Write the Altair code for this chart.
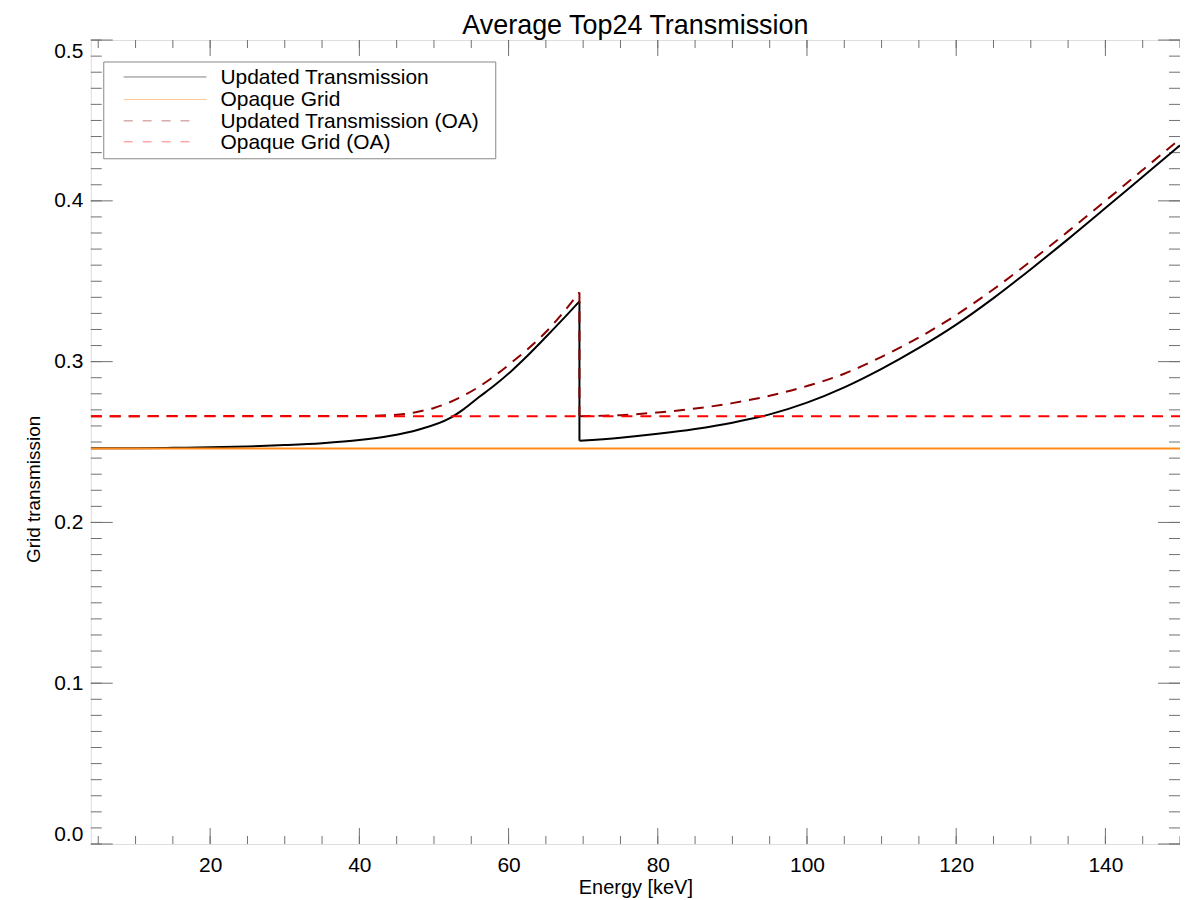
import altair as alt
import pandas as pd

# ---- data ----
# Updated Transmission (black), below and above the 69.5 keV edge
black_pre_e = [4, 10, 15, 20, 25, 30, 35, 40, 44, 48, 52, 54, 56, 58, 60.5, 62.5, 65, 67, 69.5]
black_pre_t = [0.2462, 0.2462, 0.2464, 0.2467, 0.2472, 0.2481, 0.2493, 0.2512, 0.2537, 0.2578,
               0.2645, 0.2705, 0.2778, 0.2848, 0.2947, 0.3035, 0.3153, 0.3250, 0.3375]
black_post_e = [69.5, 75, 80, 85, 90, 95, 100, 105, 110, 115, 120, 125, 130, 135, 140, 145, 150]
black_post_t = [0.2508, 0.2527, 0.2551, 0.2581, 0.2620, 0.2672, 0.2745, 0.2840, 0.2955, 0.3085,
                0.3230, 0.3395, 0.3575, 0.3762, 0.3955, 0.4150, 0.4345]

# Updated Transmission (OA) (dark red dashed)
oa_pre_e = [4, 40, 44, 46, 48, 50, 52, 56, 60.5, 65, 69.5]
oa_pre_t = [0.2661, 0.2662, 0.2667, 0.2674, 0.2690, 0.2712, 0.2745, 0.2843, 0.2998, 0.3184, 0.3430]
oa_post_e = [69.5, 75, 80, 85, 90, 95, 100, 105, 110, 115, 120, 125, 130, 135, 140, 145, 150]
oa_post_t = [0.2661, 0.2667, 0.2684, 0.2708, 0.2742, 0.2788, 0.2848, 0.2925, 0.3030, 0.3150,
             0.3290, 0.3450, 0.3625, 0.3810, 0.4000, 0.4192, 0.4385]

# Opaque Grid (orange) and Opaque Grid (OA) (red dashed)
opaque_e = [4, 150]
opaque_t = [0.2460, 0.2460]
opaque_oa_e = [4, 150]
opaque_oa_t = [0.2661, 0.2661]

series_names = ["Updated Transmission", "Opaque Grid",
                "Updated Transmission (OA)", "Opaque Grid (OA)"]
series_colors = ["#000000", "#ff8c1a", "#8b0000", "#ff0000"]
title_text = "Average Top24 Transmission"

x_major = [20, 40, 60, 80, 100, 120, 140]
x_minor = list(range(5, 151, 5))
y_major = [0.0, 0.1, 0.2, 0.3, 0.4, 0.5]
y_minor = [round(i * 0.01, 2) for i in range(0, 51)]

W, H = 1092, 806
FONT = "Liberation Sans"
AXC = "#707070"
DASH = [11, 8]

xs = alt.Scale(domain=[4, 150], nice=False, zero=False)
ys = alt.Scale(domain=[0, 0.5], nice=False, zero=False)
xaxis = alt.Axis(values=x_major, title="Energy [keV]", ticks=False, tickSize=0, domain=False,
                 grid=False, labelFontSize=21, labelPadding=11, titleFontSize=20,
                 titlePadding=2, labelFont=FONT, titleFont=FONT, titleFontWeight="normal",
                 labelColor="black", titleColor="black")
yaxis = alt.Axis(values=y_major, format=".1f", title="Grid transmission", ticks=False,
                 tickSize=0, domain=False, grid=False, labelFontSize=21, labelPadding=8,
                 labelFlush=True, titleFontSize=19, titlePadding=10, titleY=450,
                 labelFont=FONT, titleFont=FONT, titleFontWeight="normal",
                 labelColor="black", titleColor="black")
X = alt.X("x:Q", scale=xs, axis=xaxis)
Y = alt.Y("y:Q", scale=ys, axis=yaxis)


def line_layer(e, t, color, dash=None, interp="monotone"):
    df = pd.DataFrame({"x": e, "y": t, "i": list(range(len(e)))})
    kw = dict(color=color, strokeWidth=2, clip=True, interpolate=interp)
    if dash:
        kw["strokeDash"] = dash
    return alt.Chart(df).mark_line(**kw).encode(x=X, y=Y, order="i:Q")


def edge_layer(pre_e, pre_t, post_e, post_t, color, dash=None):
    # vertical drop at the absorption edge, from the last point below to the first above
    return line_layer([pre_e[-1], post_e[0]], [pre_t[-1], post_t[0]], color, dash, "linear")


def xticks(vals, length):
    df = pd.DataFrame({"x": vals})
    bot = alt.Chart(df).mark_rule(color=AXC, strokeWidth=1).encode(
        x=X, y=alt.value(H), y2=alt.value(H - length))
    top = alt.Chart(df).mark_rule(color=AXC, strokeWidth=1).encode(
        x=X, y=alt.value(0), y2=alt.value(length))
    return [bot, top]


def yticks(vals, length):
    df = pd.DataFrame({"y": vals})
    left = alt.Chart(df).mark_rule(color=AXC, strokeWidth=1).encode(
        y=Y, x=alt.value(0), x2=alt.value(length))
    right = alt.Chart(df).mark_rule(color=AXC, strokeWidth=1).encode(
        y=Y, x=alt.value(W - length), x2=alt.value(W))
    return [left, right]


layers = []
layers += xticks(x_minor, 8) + xticks(x_major, 16)
layers += yticks(y_minor, 11) + yticks(y_major, 22)

layers.append(line_layer(black_pre_e, black_pre_t, series_colors[0]))
layers.append(line_layer(black_post_e, black_post_t, series_colors[0]))
layers.append(edge_layer(black_pre_e, black_pre_t, black_post_e, black_post_t, series_colors[0]))
layers.append(line_layer(opaque_e, opaque_t, series_colors[1], interp="linear"))
layers.append(line_layer(oa_pre_e, oa_pre_t, series_colors[2], DASH))
layers.append(line_layer(oa_post_e, oa_post_t, series_colors[2], DASH))
layers.append(edge_layer(oa_pre_e, oa_pre_t, oa_post_e, oa_post_t, series_colors[2], DASH))
layers.append(line_layer(opaque_oa_e, opaque_oa_t, series_colors[3], DASH, "linear"))

# ---- legend box ----
box_df = pd.DataFrame({"k": [0]})
layers.append(alt.Chart(box_df).mark_rect(fill="white", stroke="#888888", strokeWidth=1).encode(
    x=alt.value(13), x2=alt.value(406), y=alt.value(22), y2=alt.value(119)))

row_y = [37, 59.5, 81, 102]
for k, name in enumerate(series_names):
    ldf = pd.DataFrame({"label": [name]})
    dashed = k >= 2
    rule_kw = dict(color=series_colors[k], strokeWidth=1, opacity=0.5)
    if dashed:
        rule_kw["strokeDash"] = [9, 10]
    layers.append(alt.Chart(ldf).mark_rule(**rule_kw).encode(
        x=alt.value(33), x2=alt.value(116 if not dashed else 107), y=alt.value(row_y[k])))
    layers.append(alt.Chart(ldf).mark_text(
        align="left", baseline="middle", font=FONT, fontSize=21, color="black").encode(
        x=alt.value(130), y=alt.value(row_y[k] + 1), text="label:N"))

# ---- chart title ----
tdf = pd.DataFrame({"t": [title_text]})
layers.append(alt.Chart(tdf).mark_text(
    align="center", baseline="alphabetic", font=FONT, fontSize=27, color="black").encode(
    x=alt.value(W / 2), y=alt.value(-6), text="t:N"))

chart = alt.layer(*layers).properties(
    width=W, height=H,
    padding={"left": 83, "top": 31, "right": 0, "bottom": 55},
    autosize=alt.AutoSizeParams(type="none"),
).configure_view(stroke=AXC, strokeWidth=1).configure(background="white")

chart.save("out.html", embed_options={"renderer": "svg", "actions": False})
